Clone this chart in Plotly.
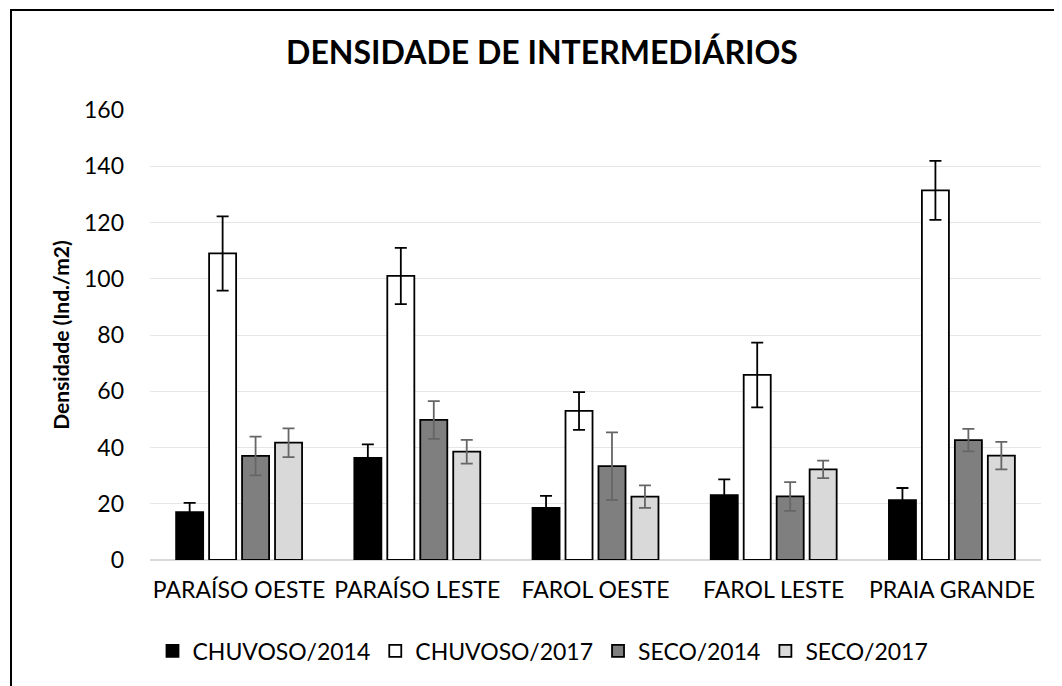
import plotly.graph_objects as go

categories = ["PARAÍSO OESTE", "PARAÍSO LESTE", "FAROL OESTE", "FAROL LESTE", "PRAIA GRANDE"]

chuvoso_2014 = [17.0, 36.3, 18.5, 23.1, 21.3]
chuvoso_2014_err = [3.3, 4.8, 4.3, 5.6, 4.3]
chuvoso_2017 = [109.0, 101.0, 53.0, 65.8, 131.4]
chuvoso_2017_err = [13.2, 10.0, 6.7, 11.5, 10.5]
seco_2014 = [37.0, 49.8, 33.4, 22.6, 42.6]
seco_2014_err = [6.9, 6.7, 12.0, 5.1, 4.0]
seco_2017 = [41.7, 38.5, 22.5, 32.2, 37.1]
seco_2017_err = [5.1, 4.2, 4.0, 3.1, 4.9]

series = [
    ("CHUVOSO/2014", chuvoso_2014, chuvoso_2014_err, "#000000", "#000000"),
    ("CHUVOSO/2017", chuvoso_2017, chuvoso_2017_err, "#ffffff", "#000000"),
    ("SECO/2014", seco_2014, seco_2014_err, "#7f7f7f", "#666666"),
    ("SECO/2017", seco_2017, seco_2017_err, "#d9d9d9", "#666666"),
]

FONT = "Lato"

fig = go.Figure()
for name, vals, errs, fill, ecol in series:
    fig.add_trace(go.Bar(
        name=name, x=categories, y=vals,
        marker=dict(color=fill, line=dict(color="#000000", width=1.8)),
        error_y=dict(type="data", array=errs, visible=True, color=ecol, thickness=1.8, width=6),
    ))

# page body has an 8px margin; positions below are in screen pixels of the reference
OFF = 8
W, H = 1062, 686
L = 150 - OFF
T = 110 - OFF
PLOT_R = 1041 - OFF
PLOT_B = 560 - OFF
R = W - PLOT_R
B = H - PLOT_B
pw, ph = PLOT_R - L, PLOT_B - T

def px_x(x):
    return (x - OFF - L) / pw

def px_y(y):
    return (PLOT_B - (y - OFF)) / ph

fig.update_layout(
    width=W, height=H,
    margin=dict(l=L, r=R, t=T, b=B),
    paper_bgcolor="white", plot_bgcolor="white",
    barmode="group", bargap=0.26, bargroupgap=0.18,
    font=dict(family=FONT, size=23, color="#000000"),
    title=dict(text="<b>DENSIDADE DE INTERMEDIÁRIOS</b>", x=(542 - OFF) / W, xanchor="center",
               y=1 - (53 - OFF) / H, yanchor="middle", font=dict(family=FONT, size=32, color="#000000")),
    xaxis=dict(showgrid=False, showline=False, ticks="", tickfont=dict(size=23), ticklabelstandoff=14),
    yaxis=dict(range=[0, 160], dtick=20, showgrid=True, gridcolor="#e6e6e6", gridwidth=1,
               zeroline=True, zerolinecolor="#d9d9d9", zerolinewidth=2,
               showline=False, ticks="", ticklabelstandoff=25, tickfont=dict(size=23),
               title=dict(text="<b>Densidade (Ind./m2)</b>", standoff=8, font=dict(size=21))),
    legend=dict(orientation="h", x=px_x(543), xanchor="center", y=px_y(651), yanchor="middle",
                font=dict(size=23), itemwidth=30, traceorder="normal"),
    showlegend=True,
    shapes=[dict(type="rect", xref="paper", yref="paper",
                 x0=px_x(11), x1=px_x(1085), y0=px_y(710), y1=px_y(10),
                 line=dict(color="#000000", width=2), fillcolor="rgba(0,0,0,0)", layer="below")],
)

fig.write_html("out.html")
